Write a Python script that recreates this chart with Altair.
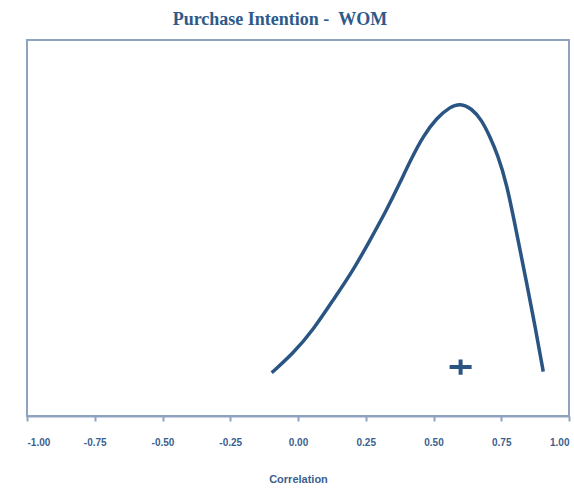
import altair as alt
import pandas as pd

# Posterior density of the correlation (relative height)
corr = [-0.097, -0.017, 0.056, 0.130, 0.204, 0.266, 0.327, 0.376, 0.413, 0.462, 0.512,
        0.561, 0.598, 0.641, 0.678, 0.708, 0.736, 0.770, 0.807, 0.844, 0.875, 0.905]
density = [0.115, 0.167, 0.229, 0.309, 0.388, 0.468, 0.548, 0.620, 0.677, 0.745, 0.793,
           0.822, 0.832, 0.818, 0.787, 0.743, 0.696, 0.619, 0.486, 0.353, 0.238, 0.118]

# Point estimate marker
est_corr = [0.60]
est_height = [0.130]

x_ticks = [-1.0, -0.75, -0.5, -0.25, 0.0, 0.25, 0.5, 0.75, 1.0]

curve_df = pd.DataFrame({"corr": corr, "density": density})
est_df = pd.DataFrame({"corr": est_corr, "density": est_height})

frame = "#8FA3C0"
ink = "#2A5583"
label_col = "#3B5F8E"

x_enc = alt.X(
    "corr:Q",
    scale=alt.Scale(domain=[-1, 1], nice=False, zero=False),
    axis=alt.Axis(
        values=x_ticks,
        labelExpr="(datum.value < 0 ? '-' : '') + format(abs(datum.value), '.2f')",
        title="Correlation",
        grid=False,
        domainColor=frame,
        domainWidth=2,
        tickColor=frame,
        tickWidth=2,
        tickSize=5,
        labelFont="Liberation Sans",
        labelFontWeight="bold",
        labelFontSize=10,
        labelColor=label_col,
        labelPadding=16,
        titleFont="Liberation Sans",
        titleFontWeight="bold",
        titleFontSize=11,
        titleColor=label_col,
        titlePadding=26,
    ),
)
y_enc = alt.Y("density:Q", scale=alt.Scale(domain=[0, 1], nice=False), axis=None)

curve = alt.Chart(curve_df).mark_line(
    color=ink, strokeWidth=3.5, interpolate="basis"
).encode(x=x_enc, y=y_enc)

marker = alt.Chart(est_df).mark_point(
    shape="M-1,0H1M0,-0.7V0.7",
    filled=False,
    color=ink,
    strokeWidth=4,
    size=484,
    opacity=1,
).encode(x="corr:Q", y="density:Q")

chart = (
    alt.layer(curve, marker)
    .properties(
        width=542,
        height=376,
        autosize=alt.AutoSizeParams(type="none"),
        padding={"left": 27, "top": 40, "right": 5, "bottom": 72},
        title=alt.TitleParams(
            "Purchase Intention -\u00a0\u00a0WOM",
            font="Liberation Serif",
            fontWeight="bold",
            fontSize=18,
            color="#2E5A8A",
            anchor="middle",
            dx=-18,
            offset=11,
        ),
    )
    .configure_view(stroke=frame, strokeWidth=2)
)

chart.save("out.html", embed_options={"renderer": "svg", "actions": False})
